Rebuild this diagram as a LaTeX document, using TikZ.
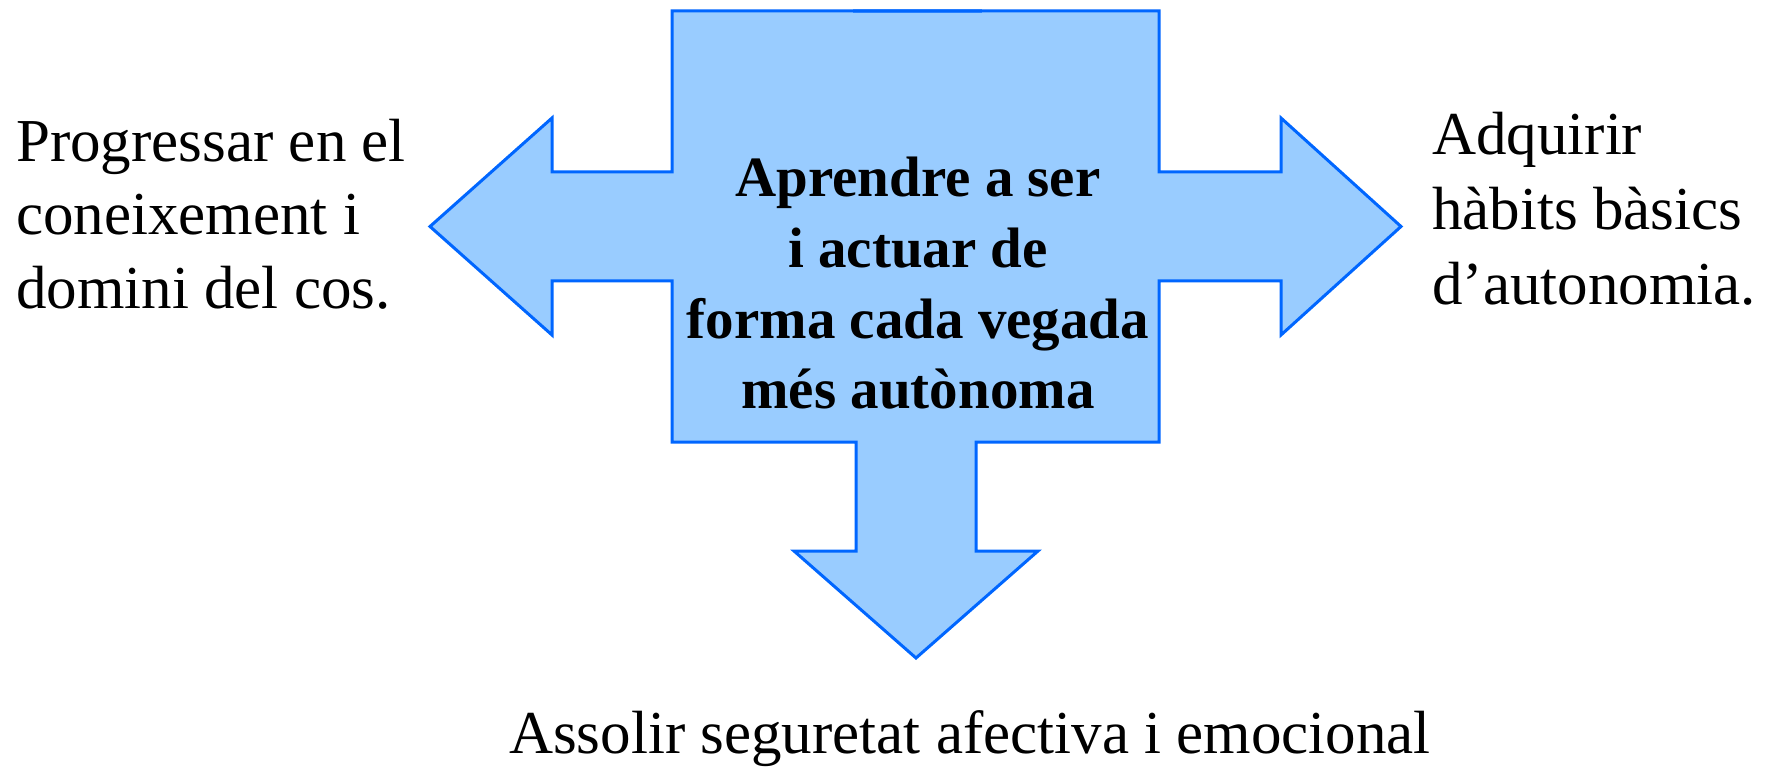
\documentclass[tikz,border=0pt]{standalone}
\usepackage{fontspec}
\setmainfont{Liberation Serif}
\definecolor{arrowfill}{HTML}{99CCFF}
\definecolor{arrowline}{HTML}{0066FF}
\tikzset{
  outertext/.style={anchor=base west, inner sep=0pt, font=\fontsize{61}{73}\selectfont},
  centertext/.style={anchor=base, inner sep=0pt, font=\fontsize{57}{70}\selectfont\bfseries},
  crossshape/.style={fill=arrowfill, draw=arrowline, line width=3pt, line join=miter}
}
\begin{document}
\begin{tikzpicture}[x=1pt,y=-1pt]
\useasboundingbox (0,0) rectangle (1766,767);
% cross-shaped arrow figure
\draw[crossshape] (672,11) -- (1159,11) -- (1159,172) -- (1281,172) -- (1281,118)
  -- (1401,226.5) -- (1281,335) -- (1281,281) -- (1159,281) -- (1159,442)
  -- (976,442) -- (976,551) -- (1038,551) -- (916,658) -- (794,551) -- (856,551)
  -- (856,442) -- (672,442) -- (672,281) -- (552,281) -- (552,335) -- (430,226.5)
  -- (552,118) -- (552,172) -- (672,172) -- cycle;
\draw[arrowline, line width=4.5pt, opacity=0.6] (853,11) -- (982,11);
% centre text
\node[centertext] (c1) at (918,197) {Aprendre a ser};
\node[centertext] (c2) at (918,268) {i actuar de};
\node[centertext] (c3) at (918,338) {forma cada vegada};
\node[centertext] (c4) at (918,408) {més autònoma};
% left text
\node[outertext] (l1) at (16,162) {Progressar en el};
\node[outertext] (l2) at (16,235) {coneixement i};
\node[outertext] (l3) at (16,308) {domini del cos.};
% right text
\node[outertext] (r1) at (1432,155) {Adquirir};
\node[outertext] (r2) at (1432,230) {hàbits bàsics};
\node[outertext] (r3) at (1432,304) {d’autonomia.};
% bottom text
\node[outertext] (b1) at (509,753) {Assolir seguretat afectiva i emocional};
\end{tikzpicture}
\end{document}
